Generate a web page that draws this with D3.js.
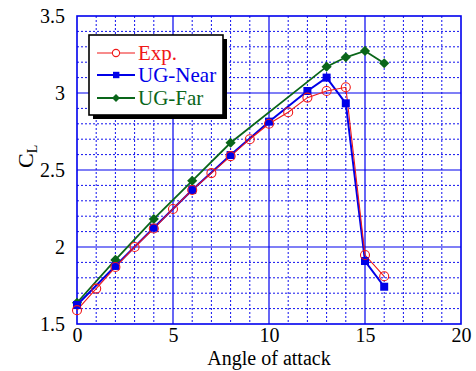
<!DOCTYPE html>
<html><head><meta charset="utf-8">
<script src="https://cdn.jsdelivr.net/npm/d3@7"></script>
<style>body{margin:0;background:#fff}svg{display:block}text{font-family:'Liberation Serif','Times New Roman',serif}</style>
</head><body><svg id="c" width="476" height="371"></svg>
<script>
const expX = [0,1,2,3,4,5,6,7,8,9,10,11,12,13,14,15,16];
const expY = [1.59,1.73,1.87,2.00,2.12,2.247,2.37,2.48,2.59,2.70,2.80,2.875,2.97,3.013,3.037,1.948,1.81];
const nearX = [0,2,4,6,8,10,12,13,14,15,16];
const nearY = [1.623,1.877,2.125,2.37,2.597,2.814,3.013,3.10,2.933,1.909,1.742];
const farX = [0,2,4,6,8,13,14,15,16];
const farY = [1.638,1.916,2.182,2.43,2.677,3.171,3.232,3.273,3.193];
const xTicks = [0,5,10,15,20];
const yTicks = [1.5,2,2.5,3,3.5];
const yTickLabels = ["1.5","2","2.5","3","3.5"];
const seriesNames = ["Exp.","UG-Near","UG-Far"];

const RED="#f01818", BLUE="#0000e8", GREEN="#0a661a";
const svg=d3.select("#c");
const L=77,R=461,T=16,B=324;
const x=d3.scaleLinear().domain([0,20]).range([L,R]);
const y=d3.scaleLinear().domain([1.5,3.5]).range([B,T]);
const font="'Liberation Serif','Times New Roman',serif";

const g=svg.append("g");
const minorX=d3.range(1,20).filter(v=>v%5!==0);
const minorY=d3.range(16,35).map(v=>v/10).filter(v=>Math.abs(v*2-Math.round(v*2))>1e-6);
g.selectAll(".mx").data(minorX).join("line").attr("x1",d=>x(d)).attr("x2",d=>x(d)).attr("y1",T).attr("y2",B)
 .attr("stroke","#1010ee").attr("stroke-width",1).attr("stroke-dasharray","2,2");
g.selectAll(".my").data(minorY).join("line").attr("y1",d=>y(d)).attr("y2",d=>y(d)).attr("x1",L).attr("x2",R)
 .attr("stroke","#1010ee").attr("stroke-width",1).attr("stroke-dasharray","2,2");
g.selectAll(".Mx").data([5,10,15]).join("line").attr("x1",d=>x(d)).attr("x2",d=>x(d)).attr("y1",T).attr("y2",B)
 .attr("stroke","#0000ee").attr("stroke-width",1.2);
g.selectAll(".My").data([2,2.5,3]).join("line").attr("y1",d=>y(d)).attr("y2",d=>y(d)).attr("x1",L).attr("x2",R)
 .attr("stroke","#0000ee").attr("stroke-width",1.2);
g.append("rect").attr("x",L).attr("y",T).attr("width",R-L).attr("height",B-T).attr("fill","none").attr("stroke","#0000ee").attr("stroke-width",1.6);

const xa=svg.append("g").attr("transform",`translate(0,${B})`).call(d3.axisBottom(x).tickValues(xTicks).tickSize(0).tickPadding(8));
xa.select(".domain").remove();
xa.attr("font-family",null).attr("font-size",null);
xa.selectAll("text").style("font-family",font).style("font-size","20px").attr("fill","#000").attr("dy","0.72em").attr("y",4);
const ya=svg.append("g").attr("transform",`translate(${L},0)`).call(d3.axisLeft(y).tickValues(yTicks).tickFormat((d,i)=>yTickLabels[i]).tickSize(0).tickPadding(12));
ya.select(".domain").remove();
ya.attr("font-family",null).attr("font-size",null);
ya.selectAll("text").style("font-family",font).style("font-size","20px").attr("fill","#000");

svg.append("text").attr("x",(L+R)/2).attr("y",365).attr("text-anchor","middle").style("font-size","20px").text("Angle of attack");
const cl=svg.append("text").attr("transform","translate(33,168) rotate(-90)").style("font-size","22px");
cl.append("tspan").text("C");
cl.append("tspan").style("font-size","14px").attr("dy",4).text("L");

const line=d3.line().x(d=>x(d[0])).y(d=>y(d[1]));
const exp=expX.map((v,i)=>[v,expY[i]]), near=nearX.map((v,i)=>[v,nearY[i]]), far=farX.map((v,i)=>[v,farY[i]]);
svg.append("path").attr("d",line(far)).attr("fill","none").attr("stroke",GREEN).attr("stroke-width",1.8);
svg.append("path").attr("d",line(near)).attr("fill","none").attr("stroke",BLUE).attr("stroke-width",2);
svg.append("path").attr("d",line(exp)).attr("fill","none").attr("stroke",RED).attr("stroke-width",1.1);

svg.selectAll(".fd").data(far).join("rect").attr("x",-3.6).attr("y",-3.6).attr("width",7.2).attr("height",7.2)
 .attr("transform",d=>`translate(${x(d[0])},${y(d[1])}) rotate(45)`).attr("fill",GREEN);
svg.selectAll(".nd").data(near).join("rect").attr("x",d=>x(d[0])-4).attr("y",d=>y(d[1])-4).attr("width",8).attr("height",8).attr("fill",BLUE);
svg.selectAll(".ed").data(exp).join("circle").attr("cx",d=>x(d[0])).attr("cy",d=>y(d[1])).attr("r",4.5).attr("fill","none").attr("stroke",RED).attr("stroke-width",1.1);

const lg=svg.append("g");
lg.append("rect").attr("x",93).attr("y",39).attr("width",134).attr("height",80).attr("fill","#000");
lg.append("rect").attr("x",89).attr("y",35).attr("width",134).attr("height",80).attr("fill","#fff").attr("stroke","#000").attr("stroke-width",1.6);
const cols=[RED,BLUE,GREEN], rows=[53,75,98], widths=[1.1,2,1.8];
seriesNames.forEach((n,i)=>{
  lg.append("line").attr("x1",97).attr("x2",135).attr("y1",rows[i]).attr("y2",rows[i]).attr("stroke",cols[i]).attr("stroke-width",widths[i]);
  if(i===0) lg.append("circle").attr("cx",116).attr("cy",rows[i]).attr("r",3.6).attr("fill","#fff").attr("stroke",RED).attr("stroke-width",1.1);
  if(i===1) lg.append("rect").attr("x",113).attr("y",rows[i]-3.2).attr("width",6.4).attr("height",6.4).attr("fill",BLUE);
  if(i===2) lg.append("rect").attr("x",-2.8).attr("y",-2.8).attr("width",5.6).attr("height",5.6).attr("transform",`translate(116,${rows[i]}) rotate(45)`).attr("fill",GREEN);
  lg.append("text").attr("x",138).attr("y",rows[i]+7).style("font-size","21px").attr("fill",cols[i]).text(n);
});
</script></body></html>
